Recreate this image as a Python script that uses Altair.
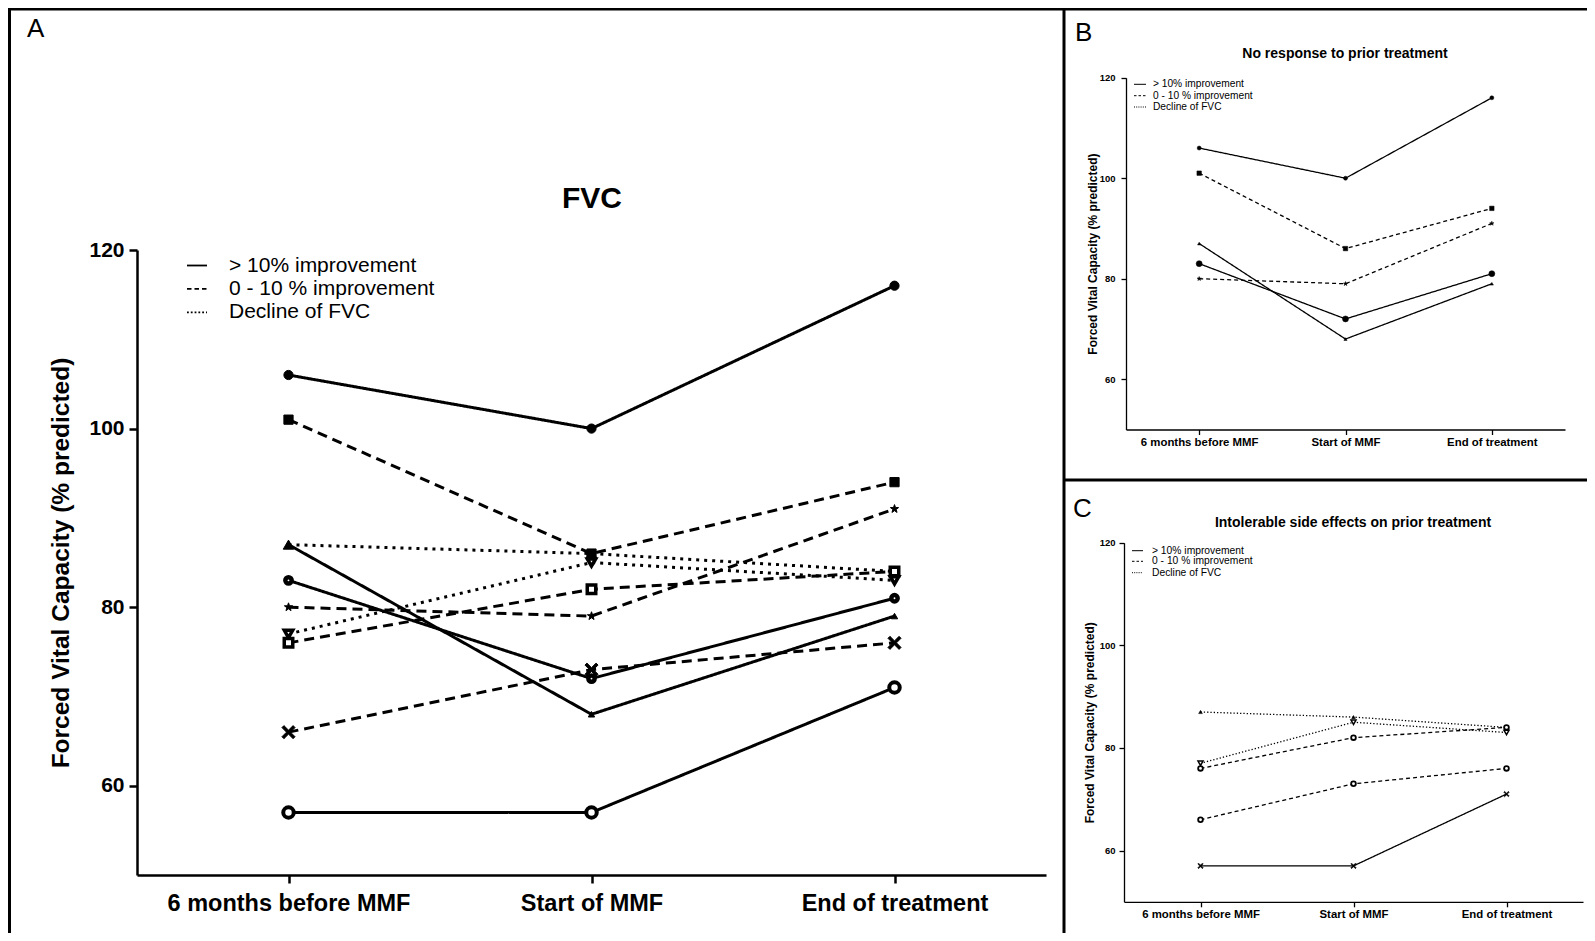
import altair as alt
import pandas as pd

FONT = "Liberation Sans"
W, H = 1579, 925

# ---------------- data ----------------
times = ["6 months before MMF", "Start of MMF", "End of treatment"]
groups = ["> 10% improvement", "0 - 10 % improvement", "Decline of FVC"]

# FVC (% predicted) of each patient at the three time points
s1 = [106, 100, 116]
s2 = [101, 86, 94]
s3 = [87, 68, 79]
s4 = [83, 72, 81]
s5 = [80, 79, 91]
s6 = [87, 86, 84]
s7 = [77, 85, 83]
s8 = [76, 82, 84]
s9 = [66, 73, 76]
s10 = [57, 57, 71]

series_values = [s1, s2, s3, s4, s5, s6, s7, s8, s9, s10]
series_group = [0, 1, 0, 0, 1, 2, 2, 1, 1, 0]   # index into groups
panel_B_ids = [0, 1, 2, 3, 4]      # no response to prior treatment
panel_C_ids = [5, 6, 7, 8, 9]      # intolerable side effects

# ---------------- marker styles ----------------
STAR = "M0,-1L0.235,-0.324L0.951,-0.309L0.38,0.124L0.588,0.809L0,0.4L-0.588,0.809L-0.38,0.124L-0.951,-0.309L-0.235,-0.324Z"
XMARK = "M-1,-0.7L-0.7,-1L0,-0.3L0.7,-1L1,-0.7L0.3,0L1,0.7L0.7,1L0,0.3L-0.7,1L-1,0.7L-0.3,0Z"

# (shape, fill, size, strokeWidth)
style_A = [
    ("circle", "black", 85, 1),
    ("square", "black", 85, 1),
    ("triangle-up", "black", 40, 1),
    ("circle", "white", 40, 4.5),
    (STAR, "black", 75, 1),
    ("triangle-up", "black", 110, 1),
    ("triangle-down", "white", 70, 3.5),
    ("square", "white", 72, 3.5),
    (XMARK, "black", 170, 1),
    ("circle", "white", 110, 4),
]
style_B = [
    ("circle", "black", 16, 0.5),
    ("square", "black", 20, 0.5),
    ("triangle-up", "black", 10, 0.5),
    ("circle", "black", 36, 0.5),
    (STAR, "black", 20, 0.5),
]
style_C = [
    ("triangle-up", "black", 14, 0.5),
    ("triangle-down", "white", 25, 1.5),
    ("circle", "white", 22, 1.8),
    ("circle", "white", 22, 1.8),
    (XMARK, "black", 30, 0.5),
]


def build_df(ids, styles):
    rows = []
    for sid, st in zip(ids, styles):
        for ti, (t, v) in enumerate(zip(times, series_values[sid])):
            rows.append({
                "series": f"P{sid + 1}", "time": t, "ti": ti, "fvc": v,
                "grp": groups[series_group[sid]],
                "shape": st[0], "fill": st[1], "size": st[2], "sw": st[3],
            })
    return pd.DataFrame(rows)


df_A = build_df(list(range(10)), style_A)
df_B = build_df(panel_B_ids, style_B)
df_C = build_df(panel_C_ids, style_C)


def panel(df, xr, yr, dashes, lw, axis_lw, tick, lab_fs, ylab_fs, ytitle_fs,
          title_dx, xpad, ypad):
    x = alt.X(
        "time:N", sort=times,
        scale=alt.Scale(type="point", domain=times, range=xr, padding=0.5),
        axis=alt.Axis(orient="bottom", offset=yr[0] - H, title=None, labelAngle=0,
                      labelFontSize=lab_fs, labelFontWeight="bold", labelPadding=xpad,
                      labelLimit=1000, tickSize=tick, tickWidth=axis_lw,
                      domainWidth=axis_lw, grid=False),
    )
    y = alt.Y(
        "fvc:Q",
        scale=alt.Scale(domain=[50, 120], range=yr, nice=False, zero=False),
        axis=alt.Axis(orient="left", offset=-xr[0], values=[60, 80, 100, 120],
                      title="Forced Vital Capacity (% predicted)",
                      titleX=title_dx, titleY=(yr[0] + yr[1]) / 2, titleAngle=270,
                      titleBaseline="middle", titleAlign="center",
                      titleFontSize=ytitle_fs, titleFontWeight="bold", titleLimit=2000,
                      labelFontSize=ylab_fs, labelFontWeight="bold", labelPadding=ypad,
                      tickSize=tick, tickWidth=axis_lw, domainWidth=axis_lw, grid=False),
    )
    lines = alt.Chart(df).mark_line(strokeWidth=lw, color="black").encode(
        x=x, y=y, detail="series:N", order="ti:Q",
        strokeDash=alt.StrokeDash("grp:N", scale=alt.Scale(domain=groups, range=dashes),
                                  legend=None),
    )
    points = alt.Chart(df).mark_point(opacity=1, stroke="black", fillOpacity=1).encode(
        x=x, y=y,
        shape=alt.Shape("shape:N", scale=None),
        fill=alt.Fill("fill:N", scale=None),
        size=alt.Size("size:Q", scale=None),
        strokeWidth=alt.StrokeWidth("sw:Q", scale=None),
    )
    return alt.layer(lines, points)


one = pd.DataFrame({"k": [0]})


def txt(s, x, y, size, weight="normal", align="left", baseline="middle"):
    return alt.Chart(one).mark_text(
        text=s, font=FONT, fontSize=size, fontWeight=weight, align=align,
        baseline=baseline, color="black",
    ).encode(x=alt.value(x), y=alt.value(y))


def rule(x1, y1, x2, y2, w, dash=None):
    kw = dict(strokeWidth=w, color="black")
    if dash is not None:
        kw["strokeDash"] = dash
    return alt.Chart(one).mark_rule(**kw).encode(
        x=alt.value(x1), x2=alt.value(x2), y=alt.value(y1), y2=alt.value(y2))


def legend(sx0, sx1, lx, ys, fs, dashes, lw):
    out = []
    for g, yy, d in zip(groups, ys, dashes):
        out.append(rule(sx0, yy, sx1, yy, lw, d))
        out.append(txt(g, lx, yy, fs))
    return out


pA = panel(df_A, [129, 1038], [867, 242], [[1, 0], [10, 6], [3, 5]], 3, 2.5, 8,
           23.5, 21, 24.5, -76, 8, 5)
pB = panel(df_B, [1118, 1557], [421.5, 69.7], [[1, 0], [4, 3], [1.3, 2]], 1.3, 1.3, 5,
           11.4, 9.5, 12, -34, 2, 6)
pC = panel(df_C, [1116, 1575], [893.8, 534.7], [[1, 0], [4, 3], [1.3, 2]], 1.3, 1.3, 5,
           11.4, 9.5, 12, -35, 2, 4)

decor = [
    # frame
    rule(0, 1, W, 1, 3),
    rule(1.5, 0, 1.5, H, 3),
    rule(1056, 0, 1056, H, 3),
    rule(1056, 472, W, 472, 3),
    # panel letters
    txt("A", 19, 29, 26, baseline="alphabetic"),
    txt("B", 1067, 33, 26, baseline="alphabetic"),
    txt("C", 1065, 509, 26, baseline="alphabetic"),
    # panel titles
    txt("FVC", 584, 191, 30, "bold", "center"),
    txt("No response to prior treatment", 1337, 46, 14, "bold", "center"),
    txt("Intolerable side effects on prior treatment", 1345, 515, 14, "bold", "center"),
]
decor += legend(179, 199, 221, [257.5, 280.9, 304.3], 21,
                [None, [4.5, 3], [1.8, 2]], 1.8)
decor += legend(1126, 1138, 1145, [76.3, 87.7, 99], 10.2,
                [None, [2.5, 2], [1, 1.2]], 1)
decor += legend(1124, 1135, 1144, [542.7, 553.3, 564.7], 10.3,
                [None, [2.5, 2], [1, 1.2]], 1)

chart = alt.layer(pA, pB, pC, *decor).resolve_scale(
    x="independent", y="independent", strokeDash="independent"
).properties(
    width=W, height=H, autosize=alt.AutoSizeParams(type="none"), padding=0,
    background="white",
).configure_view(stroke=None).configure_axis(
    labelFont=FONT, titleFont=FONT, labelColor="black", titleColor="black",
    domainColor="black", tickColor="black",
)

chart.save("out.html", embed_options={"renderer": "svg", "actions": False})
